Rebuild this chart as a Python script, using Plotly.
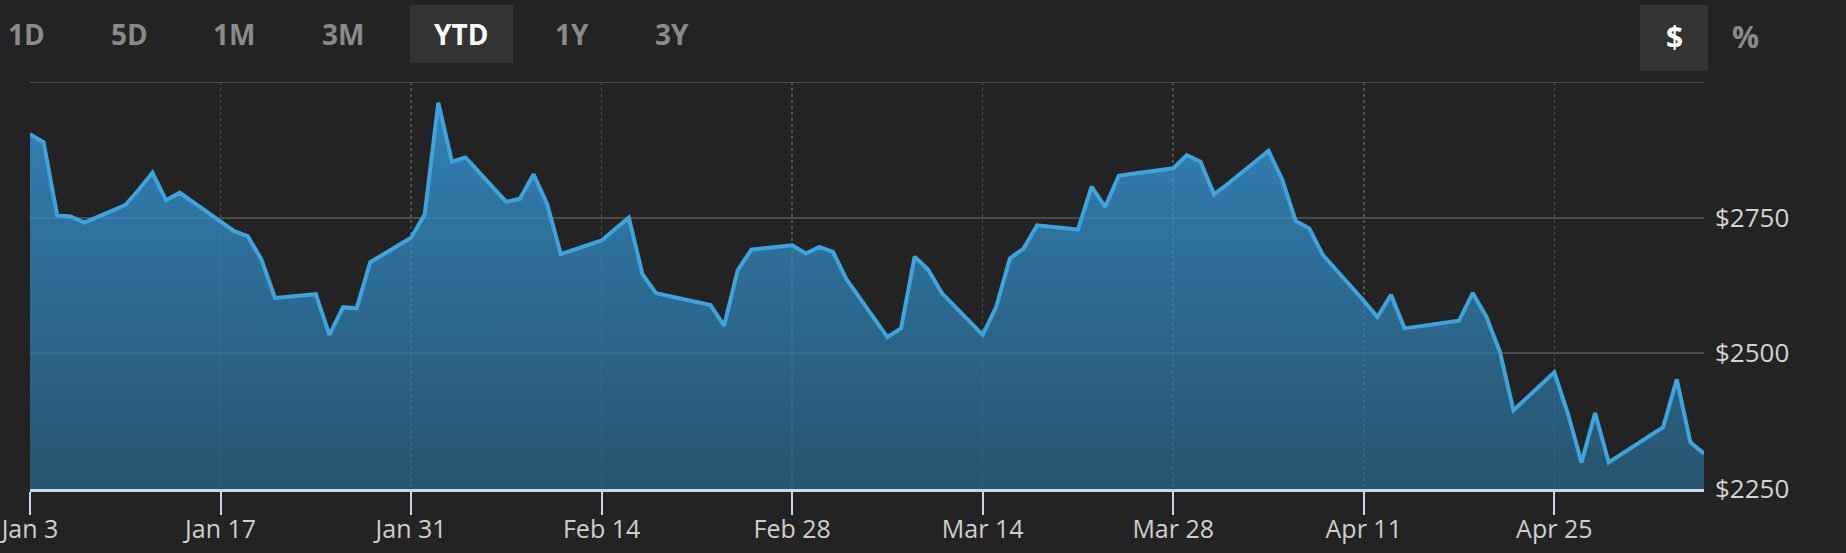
import plotly.graph_objects as go

# ---------------- data ----------------
dates = [
    "2022-01-03", "2022-01-04", "2022-01-05", "2022-01-06", "2022-01-07",
    "2022-01-10", "2022-01-11", "2022-01-12", "2022-01-13", "2022-01-14",
    "2022-01-18", "2022-01-19", "2022-01-20", "2022-01-21",
    "2022-01-24", "2022-01-25", "2022-01-26", "2022-01-27", "2022-01-28",
    "2022-01-31", "2022-02-01", "2022-02-02", "2022-02-03", "2022-02-04",
    "2022-02-07", "2022-02-08", "2022-02-09", "2022-02-10", "2022-02-11",
    "2022-02-14", "2022-02-15", "2022-02-16", "2022-02-17", "2022-02-18",
    "2022-02-22", "2022-02-23", "2022-02-24", "2022-02-25",
    "2022-02-28", "2022-03-01", "2022-03-02", "2022-03-03", "2022-03-04",
    "2022-03-07", "2022-03-08", "2022-03-09", "2022-03-10", "2022-03-11",
    "2022-03-14", "2022-03-15", "2022-03-16", "2022-03-17", "2022-03-18",
    "2022-03-21", "2022-03-22", "2022-03-23", "2022-03-24", "2022-03-25",
    "2022-03-28", "2022-03-29", "2022-03-30", "2022-03-31", "2022-04-01",
    "2022-04-04", "2022-04-05", "2022-04-06", "2022-04-07", "2022-04-08",
    "2022-04-11", "2022-04-12", "2022-04-13", "2022-04-14",
    "2022-04-18", "2022-04-19", "2022-04-20", "2022-04-21", "2022-04-22",
    "2022-04-25", "2022-04-26", "2022-04-27", "2022-04-28", "2022-04-29",
    "2022-05-02", "2022-05-03", "2022-05-04", "2022-05-05", "2022-05-06",
]
prices = [
    2904, 2889, 2754, 2752, 2741,
    2773, 2802, 2833, 2782, 2796,
    2725, 2716, 2673, 2602,
    2609, 2534, 2585, 2583, 2668,
    2713, 2756, 2962, 2853, 2861,
    2779, 2785, 2830, 2775, 2683,
    2708, 2729, 2750, 2646, 2611,
    2589, 2551, 2653, 2691,
    2699, 2684, 2696, 2687, 2636,
    2530, 2546, 2678, 2654, 2611,
    2534, 2586, 2675, 2693, 2736,
    2728, 2807, 2770, 2827, 2831,
    2841, 2865, 2853, 2793, 2812,
    2873, 2821, 2744, 2730, 2681,
    2597, 2567, 2608, 2546,
    2560, 2611, 2568, 2503, 2395,
    2465, 2389, 2299, 2390, 2299,
    2348, 2364, 2452, 2336, 2315,
]

x_tick_dates = ["2022-01-03", "2022-01-17", "2022-01-31", "2022-02-14", "2022-02-28",
                "2022-03-14", "2022-03-28", "2022-04-11", "2022-04-25"]
x_tick_labels = ["Jan 3", "Jan 17", "Jan 31", "Feb 14", "Feb 28",
                 "Mar 14", "Mar 28", "Apr 11", "Apr 25"]
y_tick_values = [2250, 2500, 2750, 3000]
y_tick_labels = ["$2250", "$2500", "$2750", ""]
y_top = 3000

range_buttons = ["1D", "5D", "1M", "3M", "YTD", "1Y", "3Y"]
selected_range = "YTD"
unit_buttons = ["$", "%"]
selected_unit = "$"

# ---------------- layout geometry (pixels) ----------------
W, H = 1846, 553
L, R, T, B = 30, 142, 82, 64
PW, PH = W - L - R, H - T - B


def px(xp):
    return (xp - L) / PW


def py(yp):
    return (H - B - yp) / PH


BG = "#232323"
FONT = "Open Sans"
GRID = "#4b4b4b"

fig = go.Figure()
fig.add_trace(go.Scatter(
    x=dates, y=prices, mode="lines",
    line=dict(color="#3fa3dc", width=4),
    fill="tozeroy",
    fillgradient=dict(
        type="vertical",
        colorscale=[[0, "rgba(41,102,138,0.72)"], [1, "rgba(56,166,241,0.72)"]],
        start=2250, stop=2962,
    ),
    hoverinfo="skip",
    showlegend=False,
))

shapes = [
    # top grid line (3000) which plotly drops at the range edge
    dict(type="line", xref="paper", yref="y", x0=0, x1=1, y0=y_top, y1=y_top,
         line=dict(color=GRID, width=2), layer="below"),
]
annotations = []

# range selector buttons
btn_x = [26, 129, 234, 343, 461, 572, 672]
for lab, cx in zip(range_buttons, btn_x):
    sel = lab == selected_range
    if sel:
        shapes.append(dict(type="rect", xref="paper", yref="paper",
                           x0=px(410), x1=px(513), y0=py(63), y1=py(5),
                           fillcolor="#333333", line=dict(width=0), layer="below"))
    annotations.append(dict(text=lab, xref="paper", yref="paper", x=px(cx), y=py(34),
                            xanchor="center", yanchor="middle", showarrow=False,
                            font=dict(family=FONT, size=28, weight="bold",
                                      color="#ffffff" if sel else "#8a8a8a")))

unit_x = [1674, 1745]
for lab, cx in zip(unit_buttons, unit_x):
    sel = lab == selected_unit
    if sel:
        shapes.append(dict(type="rect", xref="paper", yref="paper",
                           x0=px(1640), x1=px(1708), y0=py(71), y1=py(5),
                           fillcolor="#333333", line=dict(width=0), layer="below"))
    annotations.append(dict(text=lab, xref="paper", yref="paper", x=px(cx), y=py(37),
                            xanchor="center", yanchor="middle", showarrow=False,
                            font=dict(family=FONT, size=30, weight="bold",
                                      color="#ffffff" if sel else "#8a8a8a")))

fig.update_layout(
    width=W, height=H,
    margin=dict(l=L, r=R, t=T, b=B, pad=0, autoexpand=False),
    paper_bgcolor=BG, plot_bgcolor=BG,
    shapes=shapes, annotations=annotations,
    xaxis=dict(
        type="date", range=["2022-01-03", "2022-05-06"],
        tickmode="array", tickvals=x_tick_dates, ticktext=x_tick_labels,
        ticks="outside", ticklen=23, tickwidth=2, tickcolor="#c9d6e3",
        showline=True, linecolor="#c9d6e3", linewidth=2.5,
        showgrid=True, gridcolor="#505050", gridwidth=1.5, griddash="dot",
        zeroline=False, automargin=False, ticklabeloverflow="allow",
        ticklabelstandoff=-7,
        tickfont=dict(family=FONT, size=25, color="#cfcfcf"),
        fixedrange=True,
    ),
    yaxis=dict(
        side="right", range=[2250, 3000],
        tickmode="array", tickvals=y_tick_values, ticktext=y_tick_labels,
        ticks="", showline=False, zeroline=False,
        showgrid=True, gridcolor=GRID, gridwidth=2,
        ticklabelstandoff=10, automargin=False, ticklabeloverflow="allow",
        tickfont=dict(family=FONT, size=26, color="#d4d4d4"),
        fixedrange=True,
    ),
)

fig.write_html(
    "out.html",
    config={"displayModeBar": False, "staticPlot": True},
    post_script="document.body.style.margin='0px';document.body.style.background='#232323';",
)
